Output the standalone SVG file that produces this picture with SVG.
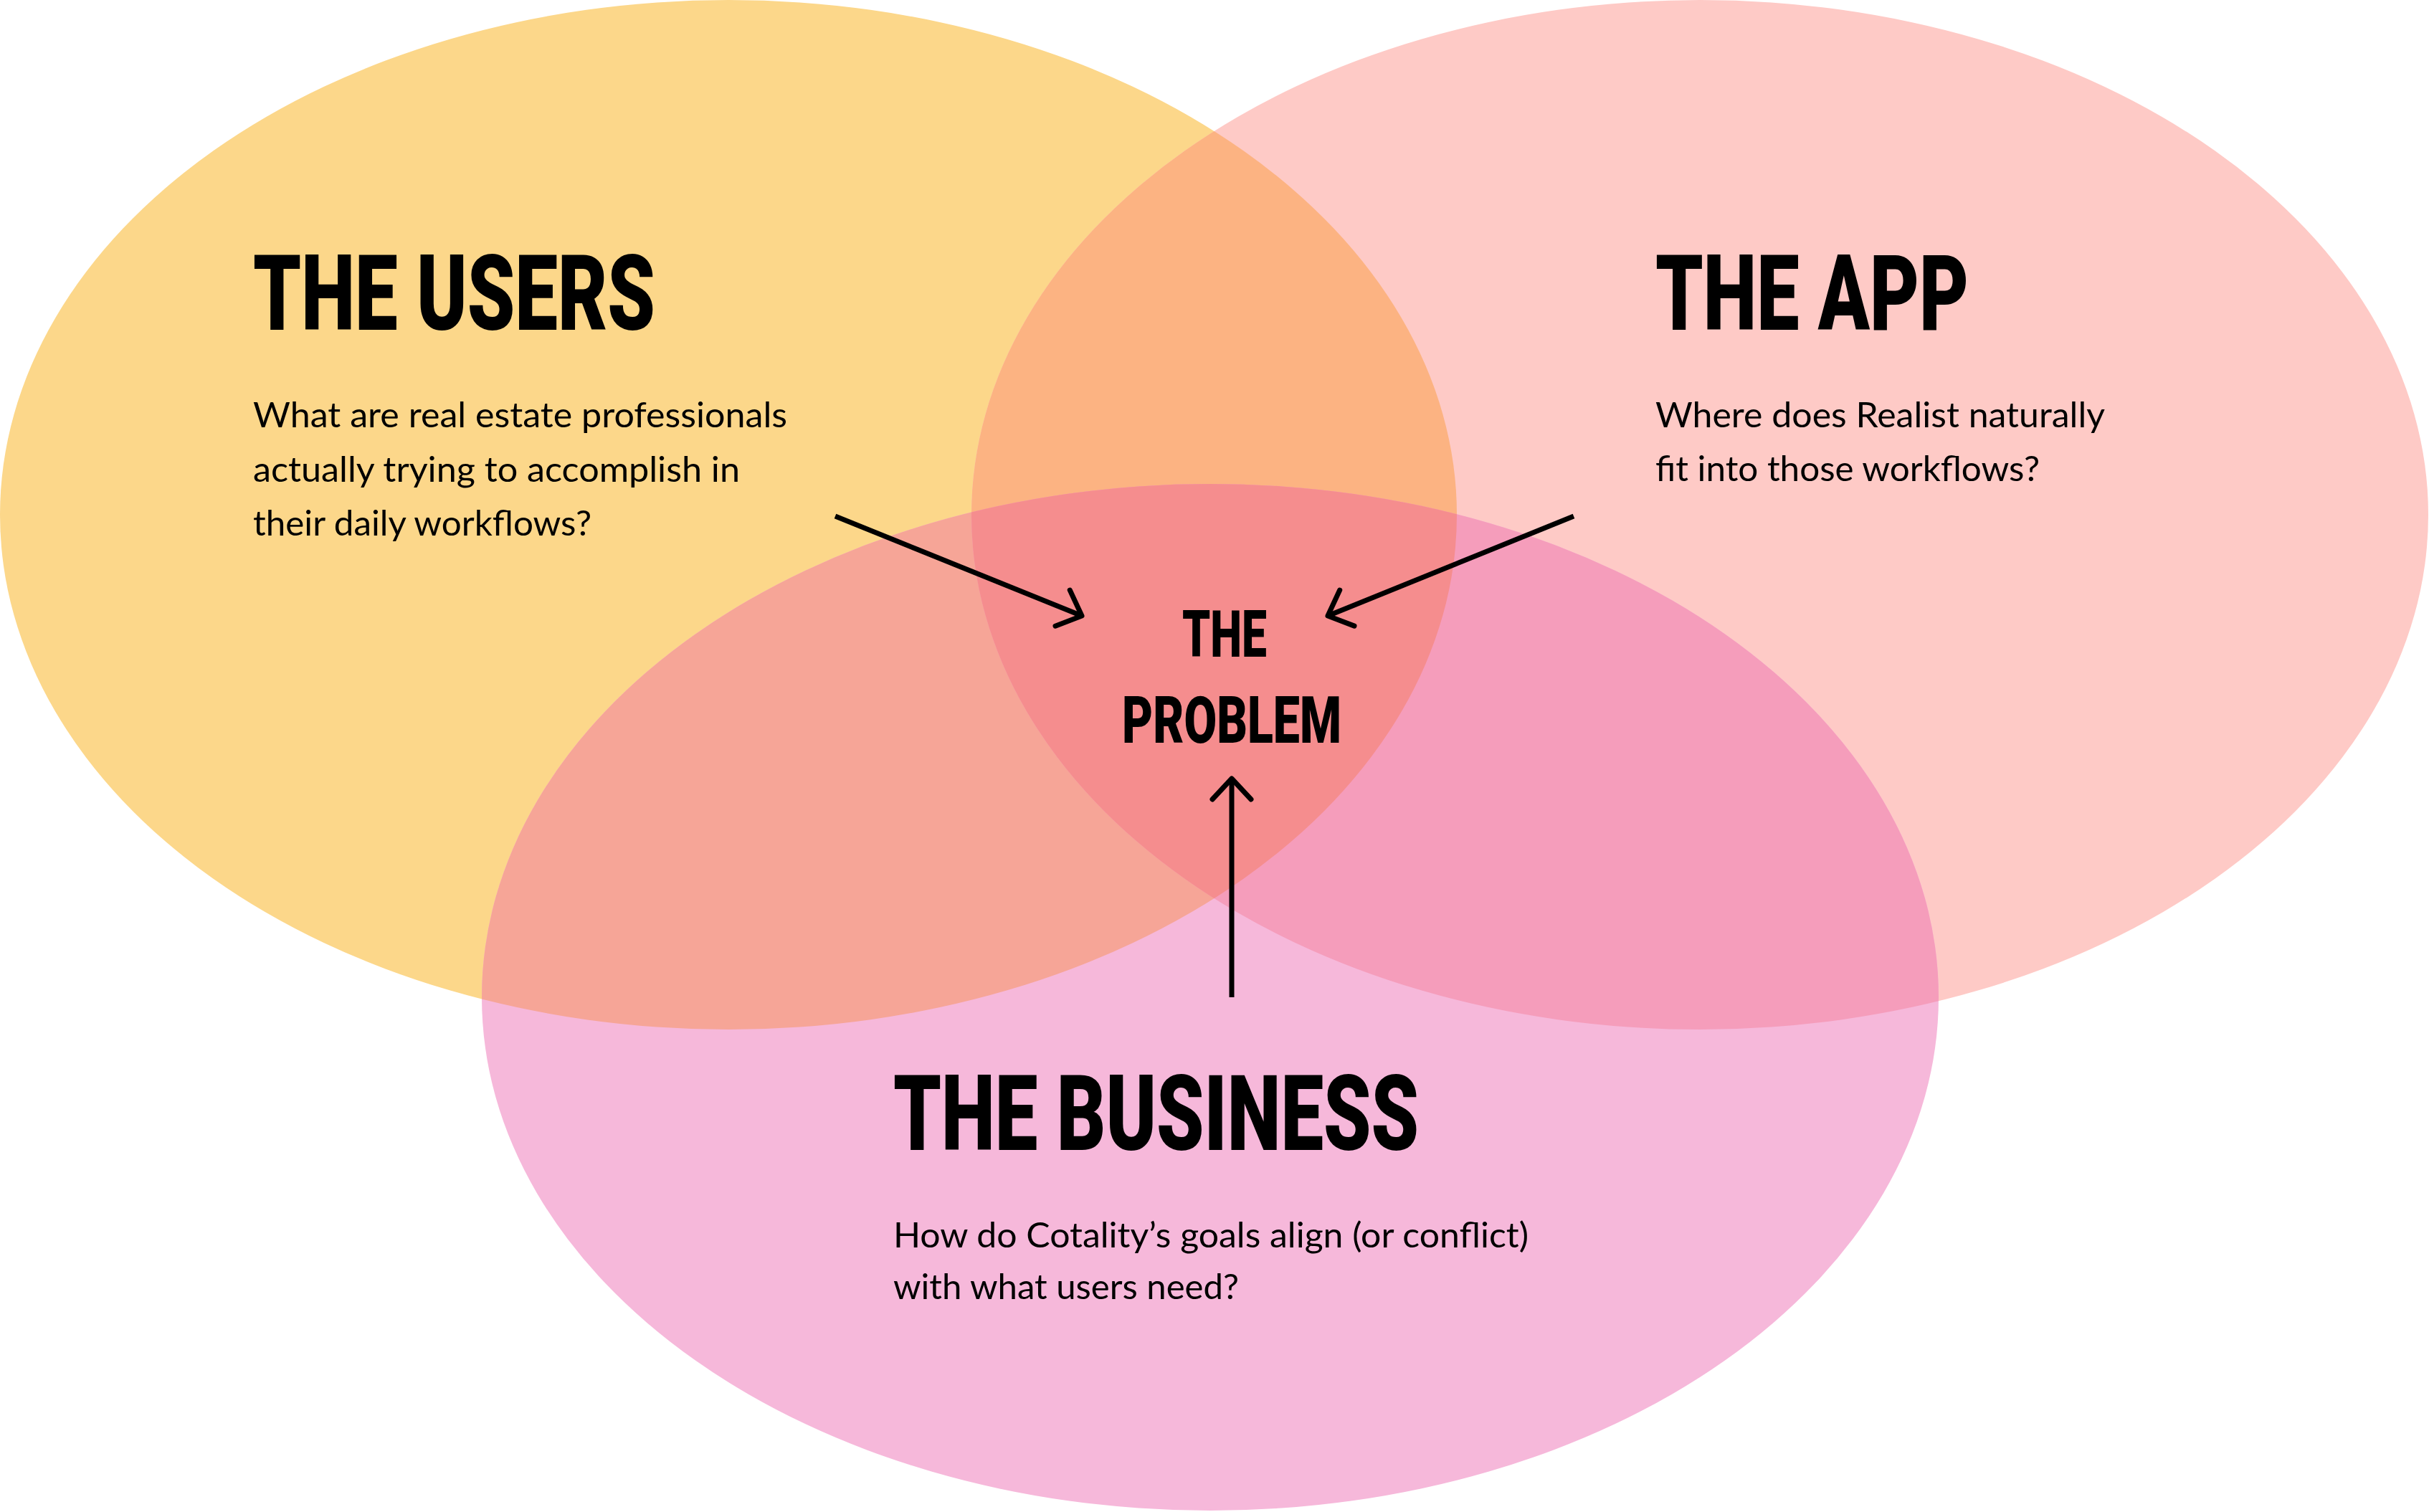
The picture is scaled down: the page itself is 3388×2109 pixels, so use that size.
<svg xmlns="http://www.w3.org/2000/svg" width="3388" height="2109" viewBox="0 0 3388 2109">
<style>
.title{font-family:"Roboto","Inter","DejaVu Sans",sans-serif;font-weight:900;fill:#000}
.body{font-family:"Lato","Open Sans","DejaVu Sans",sans-serif;font-weight:400;font-size:48px;fill:#000}
.conn{fill:none;stroke:#000;stroke-width:7}
</style>
<defs>
<clipPath id="clipY"><ellipse cx="1016" cy="718" rx="1016" ry="718"/></clipPath>
<clipPath id="clipP"><ellipse cx="2371" cy="718" rx="1016" ry="718"/></clipPath>
<marker id="arr" markerUnits="userSpaceOnUse" viewBox="0 0 80 80" markerWidth="80" markerHeight="80" refX="40" refY="40" orient="auto" overflow="visible">
<path d="M11,13 L40,40 L11,67" fill="none" stroke="#000" stroke-width="7" stroke-linecap="round" stroke-linejoin="round"/>
</marker>
</defs>
<rect width="3388" height="2109" fill="#fff"/>
<g id="users-circle"><ellipse cx="1016" cy="718" rx="1016" ry="718" fill="#FCD78A"/></g>
<g id="app-circle"><ellipse cx="2371" cy="718" rx="1016" ry="718" fill="#FECAC6"/></g>
<g id="business-circle"><ellipse cx="1688" cy="1391" rx="1016" ry="716" fill="#F6B8DA"/></g>
<g id="overlaps">
<ellipse cx="2371" cy="718" rx="1016" ry="718" fill="#FCB382" clip-path="url(#clipY)"/>
<ellipse cx="1688" cy="1391" rx="1016" ry="716" fill="#F6A597" clip-path="url(#clipY)"/>
<ellipse cx="1688" cy="1391" rx="1016" ry="716" fill="#F59DBB" clip-path="url(#clipP)"/>
<g clip-path="url(#clipP)"><ellipse cx="1688" cy="1391" rx="1016" ry="716" fill="#F58D8E" clip-path="url(#clipY)"/></g>
</g>
<g id="users">
<text class="title" x="353" y="460" font-size="146" textLength="561" lengthAdjust="spacingAndGlyphs">THE USERS</text>
<text class="body" x="353" y="596" textLength="745" lengthAdjust="spacingAndGlyphs">What are real estate professionals</text>
<text class="body" x="353" y="672" textLength="679" lengthAdjust="spacingAndGlyphs">actually trying to accomplish in</text>
<text class="body" x="353" y="747" textLength="472" lengthAdjust="spacingAndGlyphs">their daily workflows?</text>
</g>
<g id="app">
<text class="title" x="2309" y="460" font-size="146" textLength="437" lengthAdjust="spacingAndGlyphs">THE APP</text>
<text class="body" x="2309" y="596" textLength="627" lengthAdjust="spacingAndGlyphs">Where does Realist naturally</text>
<text class="body" x="2309" y="671" textLength="536" lengthAdjust="spacingAndGlyphs">fit into those workflows?</text>
</g>
<g id="business">
<text class="title" x="1246" y="1604" font-size="146" textLength="733" lengthAdjust="spacingAndGlyphs">THE BUSINESS</text>
<text class="body" x="1246" y="1740" textLength="886" lengthAdjust="spacingAndGlyphs">How do Cotality’s goals align (or conflict)</text>
<text class="body" x="1246" y="1812" textLength="482" lengthAdjust="spacingAndGlyphs">with what users need?</text>
</g>
<g id="problem">
<text class="title" x="1649" y="916" font-size="90" textLength="118" lengthAdjust="spacingAndGlyphs">THE</text>
<text class="title" x="1565" y="1036" font-size="90" textLength="306" lengthAdjust="spacingAndGlyphs">PROBLEM</text>
</g>
<g id="connectors">
<line class="conn" x1="1165" y1="720" x2="1509" y2="859" marker-end="url(#arr)"/>
<line class="conn" x1="2195" y1="720" x2="1852" y2="859" marker-end="url(#arr)"/>
<line class="conn" x1="1718" y1="1391" x2="1718" y2="1086" marker-end="url(#arr)"/>
</g>
</svg>
